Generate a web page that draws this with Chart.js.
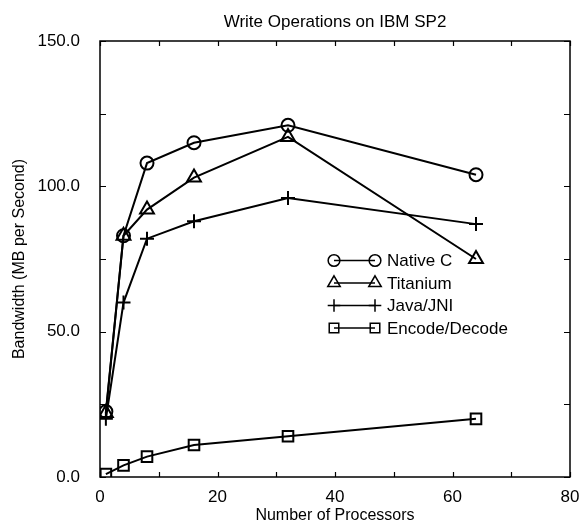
<!DOCTYPE html>
<html>
<head>
<meta charset="utf-8">
<script src="https://cdn.jsdelivr.net/npm/chart.js@4.4.1/dist/chart.umd.min.js"></script>
<style>
  html, body { margin: 0; padding: 0; background: #fff; }
  #wrap { width: 584px; height: 529px; }
</style>
</head>
<body>
<div id="wrap"><canvas id="chart" width="584" height="529"></canvas></div>
<script>
// values
const processors = [1, 4, 8, 16, 32, 64];
const nativeC = [22.5, 83, 108, 115, 121, 104];
const titanium = [22, 83, 92, 103, 117, 75];
const javaJni = [20, 60, 82, 88, 96, 87];
const encodeDecode = [1, 4, 7, 11, 14, 20];

const seriesNames = ['Native C', 'Titanium', 'Java/JNI', 'Encode/Decode'];
const seriesValues = [nativeC, titanium, javaJni, encodeDecode];
const pointStyles = ['circle', 'triangle', 'cross', 'rect'];
const pointSizes = [6.5, 8, 7, 7.5];

const FONT = "'Liberation Sans', Arial, Helvetica, sans-serif";

function makeDataset(i) {
    return {
        label: seriesNames[i],
        data: processors.map((p, j) => ({ x: p, y: seriesValues[i][j] })),
        borderColor: '#000',
        borderWidth: 2,
        pointStyle: pointStyles[i],
        pointRadius: pointSizes[i],
        pointBorderWidth: 2,
        pointBorderColor: '#000',
        pointBackgroundColor: 'rgba(0,0,0,0)',
        tension: 0,
        fill: false
    };
}

// frame with inward ticks on all four sides
const frameTicks = {
    id: 'frameTicks',
    afterDraw(chart) {
        const ctx = chart.ctx;
        const a = chart.chartArea;
        const xs = chart.scales.x, ys = chart.scales.y;
        ctx.save();
        ctx.strokeStyle = '#000';
        ctx.lineWidth = 1.5;
        ctx.strokeRect(a.left, a.top, a.right - a.left, a.bottom - a.top);
        ctx.lineWidth = 1.2;
        ctx.beginPath();
        xs.ticks.forEach(t => {
            const px = Math.round(xs.getPixelForValue(t.value)) + 0.5;
            ctx.moveTo(px, a.bottom); ctx.lineTo(px, a.bottom - 5);
            ctx.moveTo(px, a.top); ctx.lineTo(px, a.top + 5);
        });
        ys.ticks.forEach(t => {
            const py = Math.round(ys.getPixelForValue(t.value)) + 0.5;
            ctx.moveTo(a.left, py); ctx.lineTo(a.left + 6, py);
            ctx.moveTo(a.right, py); ctx.lineTo(a.right - 6, py);
        });
        ctx.stroke();
        ctx.restore();
    }
};

// legend inside the plot: marker - line - marker  label
const innerLegend = {
    id: 'innerLegend',
    afterDraw(chart) {
        const ctx = chart.ctx;
        const a = chart.chartArea;
        const x0 = a.left + 234, x1 = a.left + 275, tx = a.left + 287;
        const step = 22.5;
        const y0 = a.top + 287 - 3 * step;
        ctx.save();
        ctx.font = '17px ' + FONT;
        ctx.textBaseline = 'middle';
        chart.data.datasets.forEach((ds, i) => {
            const y = y0 + i * step;
            ctx.strokeStyle = '#000';
            ctx.lineWidth = 1.5;
            ctx.beginPath();
            ctx.moveTo(x0, y); ctx.lineTo(x1, y);
            ctx.stroke();
            const opts = { pointStyle: ds.pointStyle, radius: ds.pointRadius * 0.9, rotation: 0, borderWidth: 2 };
            ctx.fillStyle = 'rgba(0,0,0,0)';
            Chart.helpers.drawPoint(ctx, opts, x0, y);
            ctx.fillStyle = 'rgba(0,0,0,0)';
            Chart.helpers.drawPoint(ctx, opts, x1, y);
            ctx.fillStyle = '#000';
            ctx.fillText(ds.label, tx, y + 1);
        });
        ctx.restore();
    }
};

new Chart(document.getElementById('chart'), {
    type: 'line',
    data: { datasets: seriesNames.map((n, i) => makeDataset(i)) },
    options: {
        responsive: false,
        animation: false,
        layout: { padding: { top: 0, right: 14, bottom: 0, left: 0 } },
        plugins: {
            legend: { display: false },
            tooltip: { enabled: false },
            title: {
                display: true,
                text: 'Write Operations on IBM SP2',
                fullSize: false,
                color: '#000',
                font: { family: FONT, size: 17, weight: 'normal' },
                padding: { top: 12, bottom: 8.6 }
            }
        },
        scales: {
            x: {
                type: 'linear',
                min: 0, max: 80,
                ticks: {
                    stepSize: 10,
                    color: '#000',
                    font: { family: FONT, size: 17 },
                    padding: 2,
                    maxRotation: 0,
                    autoSkip: false,
                    callback: v => (v % 20 === 0 ? String(v) : '')
                },
                grid: { display: false },
                border: { display: false },
                title: {
                    display: true,
                    text: 'Number of Processors',
                    color: '#000',
                    font: { family: FONT, size: 16 },
                    padding: { top: 5 }
                },
                afterFit(scale) { scale.height = 52; }
            },
            y: {
                min: 0, max: 150,
                ticks: {
                    stepSize: 25,
                    color: '#000',
                    font: { family: FONT, size: 17 },
                    padding: 12,
                    autoSkip: false,
                    callback: v => (v % 50 === 0 ? v.toFixed(1) : '')
                },
                grid: { display: false },
                border: { display: false },
                title: {
                    display: true,
                    text: 'Bandwidth (MB per Second)',
                    color: '#000',
                    font: { family: FONT, size: 16 },
                    padding: { top: 10, bottom: 4 }
                },
                afterFit(scale) { scale.width = 100; }
            }
        }
    },
    plugins: [frameTicks, innerLegend]
});
</script>
</body>
</html>
